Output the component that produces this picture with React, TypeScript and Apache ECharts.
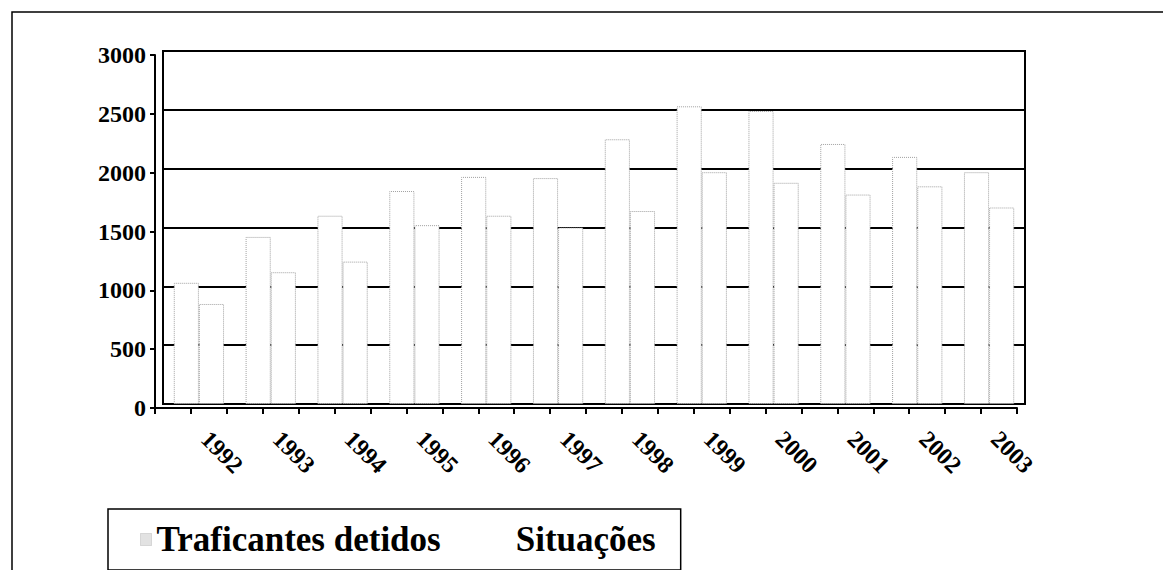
import React, { useEffect, useRef } from "react";
import * as echarts from "echarts";

const years = ["1992", "1993", "1994", "1995", "1996", "1997", "1998", "1999", "2000", "2001", "2002", "2003"];
const traficantes = [1030, 1420, 1600, 1810, 1930, 1920, 2250, 2530, 2490, 2210, 2100, 1970];
const situacoes = [850, 1120, 1210, 1520, 1600, 1500, 1640, 1970, 1880, 1780, 1850, 1670];
const yMin = 0;
const yMax = 3000;
const yStep = 500;
const seriesNames = ["Traficantes detidos", "Situações"];

const FONT = "'Liberation Serif', 'Times New Roman', serif";

export default function App() {
  const ref = useRef<HTMLDivElement>(null);

  useEffect(() => {
    if (!ref.current) return;
    const chart = echarts.init(ref.current, undefined, { renderer: "svg" });
    const tickCats = years.flatMap((y) => [y + "a", y + "b"]);

    const option: any = {
      animation: false,
      backgroundColor: "#fff",
      grid: [
        { left: 163, top: 51, right: 138, bottom: 166, show: true, borderColor: "#000", borderWidth: 2, backgroundColor: "transparent" },
        { left: 155, top: 55, right: 146, bottom: 162 },
      ],
      xAxis: [
        {
          type: "category", gridIndex: 0, position: "bottom", data: years,
          axisLine: { show: false }, axisTick: { show: false }, axisLabel: { show: false },
        },
        {
          type: "category", gridIndex: 1, position: "bottom", data: years,
          axisLine: { show: true, lineStyle: { color: "#000", width: 2 } },
          axisTick: { show: false },
          axisLabel: {
            show: true, interval: 0, rotate: -45, margin: 13,
            padding: [0, 0, 0, 20],
            fontFamily: FONT, fontWeight: "bold", fontSize: 24, color: "#000",
          },
        },
        {
          type: "category", gridIndex: 1, position: "bottom", data: tickCats,
          axisLine: { show: false },
          axisTick: { show: true, interval: 0, length: 6, lineStyle: { color: "#000", width: 2 } },
          axisLabel: { show: false },
        },
      ],
      yAxis: [
        {
          type: "value", gridIndex: 0, min: yMin, max: yMax, interval: yStep,
          axisLine: { show: true, lineStyle: { color: "#000", width: 2 } },
          axisTick: { show: false }, axisLabel: { show: false },
          splitLine: { show: true, lineStyle: { color: "#000", width: 2 } },
        },
        {
          type: "value", gridIndex: 1, min: yMin, max: yMax, interval: yStep,
          axisLine: { show: true, lineStyle: { color: "#000", width: 2 } },
          axisTick: { show: true, inside: false, length: 5, lineStyle: { color: "#000", width: 2 } },
          axisLabel: {
            show: true, margin: 9, fontFamily: FONT, fontWeight: "bold", fontSize: 24, color: "#000",
            formatter: (v: number) => String(v),
          },
          splitLine: { show: false },
        },
      ],
      legend: {
        show: true,
        left: 108,
        top: 509,
        orient: "horizontal",
        icon: "rect",
        itemWidth: 11,
        itemHeight: 12,
        itemGap: 59,
        selectedMode: false,
        borderColor: "#000",
        borderWidth: 1.5,
        padding: [13, 25, 13, 32],
        textStyle: { fontFamily: FONT, fontWeight: "bold", fontSize: 35, color: "#000" },
        data: [
          { name: seriesNames[0], itemStyle: { color: "#e2e2e2", borderColor: "#bbb", borderWidth: 1, borderType: "dotted" } },
          { name: seriesNames[1], itemStyle: { color: "#fff", borderWidth: 0 } },
        ],
      },
      series: [
        {
          name: seriesNames[0], type: "bar", xAxisIndex: 0, yAxisIndex: 0, data: traficantes,
          barGap: "0%", barCategoryGap: "30%",
          itemStyle: { color: "#fff", borderColor: "#a0a0a0", borderWidth: 1, borderType: "dotted" },
        },
        {
          name: seriesNames[1], type: "bar", xAxisIndex: 0, yAxisIndex: 0, data: situacoes,
          barGap: "0%", barCategoryGap: "30%",
          itemStyle: { color: "#fff", borderColor: "#a0a0a0", borderWidth: 1, borderType: "dotted" },
        },
      ],
      graphic: [
        {
          type: "polyline", silent: true,
          shape: { points: [[12, 575], [12, 12], [1165, 12]] },
          style: { stroke: "#000", lineWidth: 1.5, fill: "none" },
        },
      ],
    };
    chart.setOption(option);
    return () => chart.dispose();
  }, []);

  return (
    <div
      ref={ref}
      style={{ position: "fixed", left: 0, top: 0, width: 1163, height: 570, background: "#fff" }}
    />
  );
}
